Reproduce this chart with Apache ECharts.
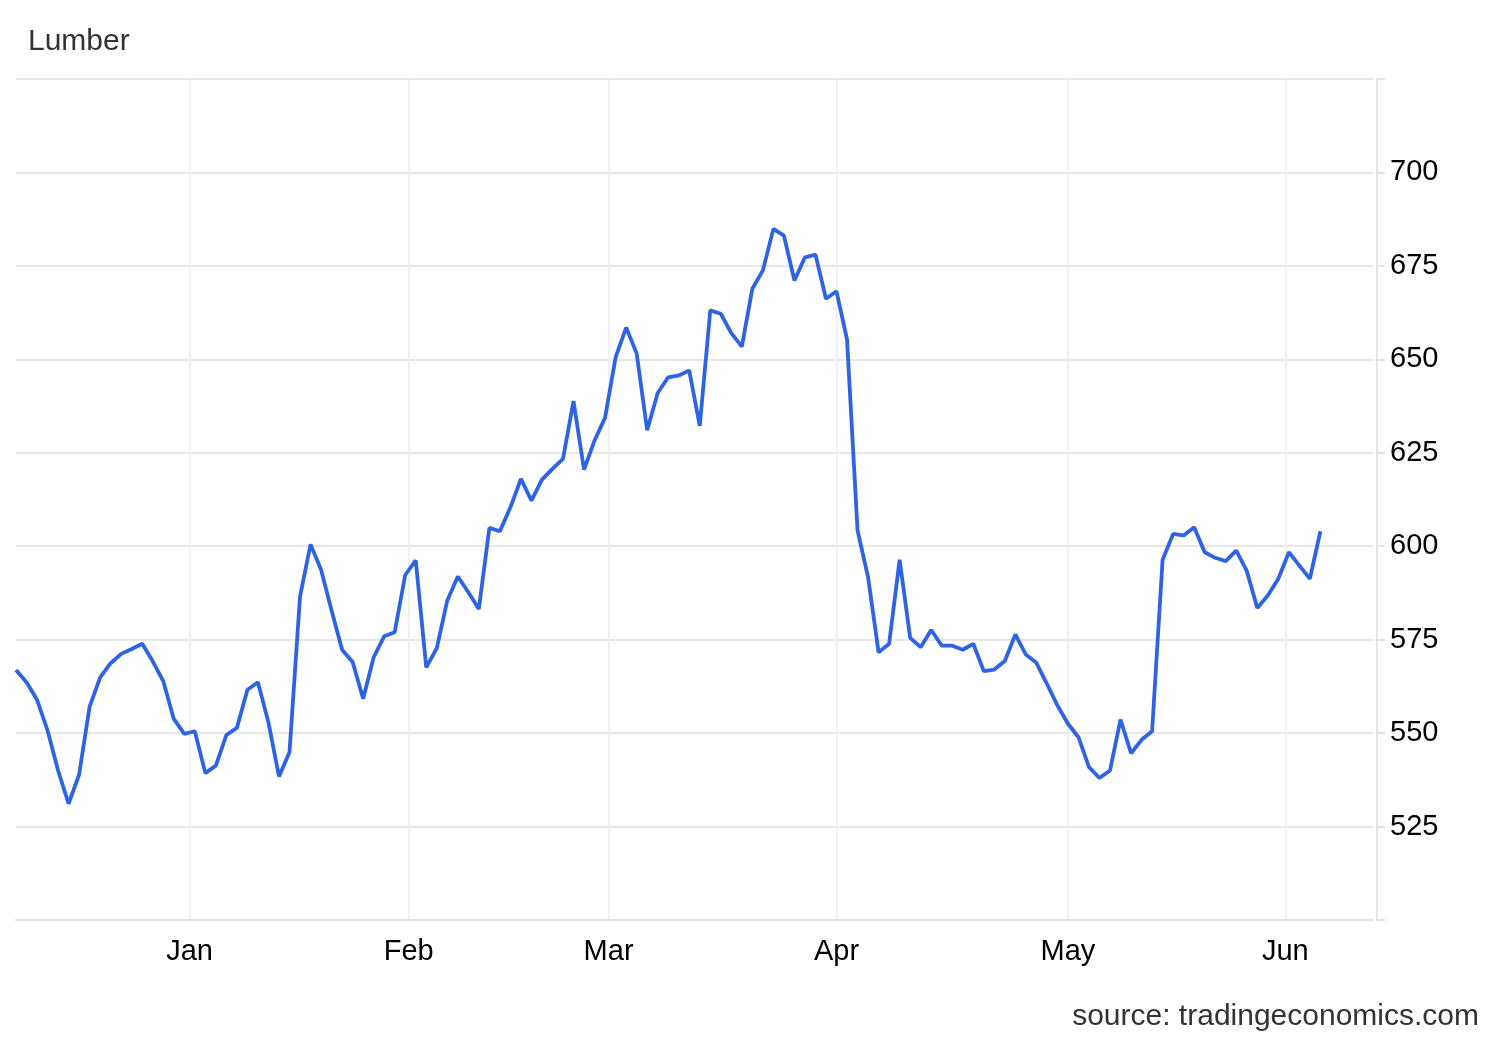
<!DOCTYPE html>
<html>
<head>
<meta charset="utf-8">
<style>
  html, body { margin: 0; padding: 0; background: #ffffff; }
  #chart { width: 1500px; height: 1040px; }
</style>
<script src="https://cdn.jsdelivr.net/npm/echarts@6/dist/echarts.min.js"></script>
</head>
<body>
<div id="chart"></div>
<script>
// ---- data ----
const chartTitle = 'Lumber';
const sourceText = 'source: tradingeconomics.com';
const firstTradingDay = '2024-12-06';
const marketHolidays = ['2024-12-25', '2025-01-01', '2025-01-20', '2025-02-17', '2025-05-26'];
const axisEndDate = '2025-06-12';
const monthStarts = ['2025-01-01', '2025-02-01', '2025-03-01', '2025-04-01', '2025-05-01', '2025-06-01'];
const monthLabels = ['Jan', 'Feb', 'Mar', 'Apr', 'May', 'Jun'];
const yTickValues = [525, 550, 575, 600, 625, 650, 675, 700];
const prices = [
  566.9, 563.6, 558.9, 550.7, 540.0, 531.1, 538.9, 557.1, 564.9, 568.7,
  571.2, 572.5, 573.9, 569.2, 563.9, 553.8, 549.8, 550.5, 539.3, 541.3,
  549.5, 551.4, 561.6, 563.6, 552.8, 538.4, 544.9, 586.5, 600.5, 593.7,
  582.8, 572.3, 569.0, 559.2, 570.3, 575.9, 577.0, 592.3, 596.2, 567.6,
  572.7, 585.5, 591.9, 587.7, 583.2, 604.9, 604.0, 610.4, 618.0, 612.2,
  617.8, 620.7, 623.4, 638.8, 620.5, 628.3, 634.4, 650.5, 658.5, 651.6,
  631.0, 641.0, 645.2, 645.7, 647.0, 632.2, 663.1, 662.2, 657.0, 653.4,
  668.9, 673.8, 684.9, 683.1, 671.1, 677.3, 678.0, 666.2, 668.2, 655.3,
  604.2, 591.7, 571.6, 573.9, 596.4, 575.5, 573.0, 577.6, 573.4, 573.4,
  572.3, 573.9, 566.6, 567.0, 569.3, 576.4, 571.0, 568.8, 563.2, 557.4,
  552.5, 548.9, 540.9, 538.0, 540.0, 553.6, 544.6, 548.2, 550.5, 596.4,
  603.3, 602.9, 605.1, 598.4, 596.9, 596.0, 598.8, 593.4, 583.5, 586.8,
  591.3, 598.4, 594.8, 591.3, 604.0
];

// ---- trading calendar (ordinal axis: one slot per trading day) ----
const DAY = 86400000;
function parseUTC(s) { const p = s.split('-').map(Number); return Date.UTC(p[0], p[1] - 1, p[2]); }
const holidaySet = new Set(marketHolidays.map(parseUTC));
const tradingDays = [];
for (let t = parseUTC(firstTradingDay); t <= parseUTC(axisEndDate); t += DAY) {
  const wd = new Date(t).getUTCDay();
  if (wd === 0 || wd === 6 || holidaySet.has(t)) continue;
  tradingDays.push(t);
}
// position of a calendar date on the ordinal axis (interpolated between trading days)
function ordinalPos(t) {
  for (let i = 0; i < tradingDays.length - 1; i++) {
    if (t >= tradingDays[i] && t <= tradingDays[i + 1]) {
      return i + (t - tradingDays[i]) / (tradingDays[i + 1] - tradingDays[i]);
    }
  }
  return tradingDays.length - 1;
}
const monthTickPos = monthStarts.map(s => ordinalPos(parseUTC(s)));
const seriesData = prices.map((v, i) => [i, v]);

const FONT = '"Liberation Sans", Arial, Helvetica, sans-serif';
const chart = echarts.init(document.getElementById('chart'), null, { renderer: 'canvas' });
chart.setOption({
  animation: false,
  backgroundColor: '#ffffff',
  grid: { left: 16, right: 127, top: 79, bottom: 120, containLabel: false },
  xAxis: {
    type: 'value',
    min: 0,
    max: tradingDays.length - 1,
    axisLine: { show: true, onZero: false, lineStyle: { color: '#e3e3e3', width: 2 } },
    axisTick: { show: false, customValues: monthTickPos },
    axisLabel: {
      customValues: monthTickPos,
      formatter: function (v) {
        for (let i = 0; i < monthTickPos.length; i++) {
          if (Math.abs(monthTickPos[i] - v) < 1e-6) return monthLabels[i];
        }
        return '';
      },
      color: '#000000',
      fontSize: 29,
      fontFamily: FONT,
      margin: 17
    },
    splitLine: { show: true, lineStyle: { color: '#eef1f5', width: 2 } }
  },
  yAxis: {
    type: 'value',
    position: 'right',
    offset: 4,
    min: 500,
    max: 725,
    interval: 25,
    axisLine: { show: true, onZero: false, lineStyle: { color: '#e3e3e3', width: 2 } },
    axisTick: { show: true, length: 8, lineStyle: { color: '#e3e3e3', width: 2 } },
    axisLabel: {
      formatter: function (v) { return yTickValues.indexOf(v) >= 0 ? String(v) : ''; },
      color: '#000000',
      fontSize: 29,
      fontFamily: FONT,
      margin: 13,
      padding: [6, 0, 0, 0]
    },
    splitLine: { show: true, lineStyle: { color: '#e8e8e8', width: 2 } }
  },
  graphic: [
    {
      type: 'text', left: 28, top: 27,
      style: { text: chartTitle, fill: '#333333', font: '30px ' + FONT }
    },
    {
      type: 'text', right: 21, top: 1002,
      style: { text: sourceText, fill: '#333333', font: '30px ' + FONT }
    }
  ],
  series: [{
    type: 'line',
    data: seriesData,
    showSymbol: false,
    symbol: 'none',
    smooth: false,
    lineStyle: { color: '#2e64e4', width: 3.8 },
    z: 5
  }]
});
</script>
</body>
</html>
